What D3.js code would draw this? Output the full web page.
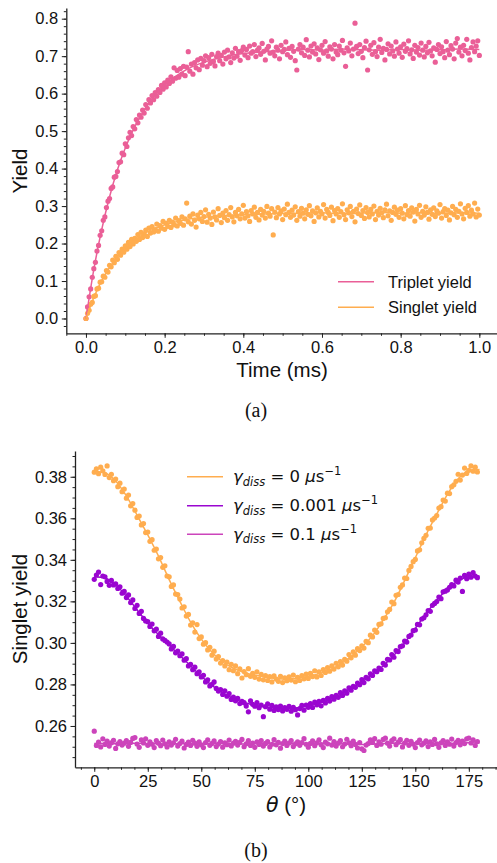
<!DOCTYPE html>
<html>
<head>
<meta charset="utf-8">
<script src="https://cdn.jsdelivr.net/npm/d3@7"></script>
<style>
body { margin: 0; background: #fff; }
svg text { font-family: "Liberation Sans", Arial, sans-serif; fill: #111; }
</style>
</head>
<body>
<svg id="chart" width="497" height="863"></svg>
<script>
// ---------- panel (a) data: yields vs time (ms), sampled every 0.004 ms ----------
const timeStep = 0.004;
const tripletYield = [
0.000,0.031,0.058,0.079,0.110,0.133,0.150,0.180,0.195,0.222,
0.234,0.262,0.271,0.296,0.313,0.320,0.347,0.351,0.377,0.379,
0.392,0.416,0.418,0.441,0.437,0.466,0.459,0.482,0.497,0.488,
0.512,0.506,0.531,0.522,0.543,0.537,0.556,0.548,0.571,0.561,
0.584,0.575,0.595,0.584,0.603,0.593,0.611,0.603,0.622,0.612,
0.629,0.618,0.636,0.627,0.645,0.633,0.669,0.641,0.662,0.644,
0.667,0.652,0.673,0.648,0.671,0.712,0.660,0.679,0.652,0.683,
0.669,0.690,0.664,0.694,0.676,0.688,0.701,0.672,0.696,0.681,
0.705,0.686,0.674,0.699,0.708,0.688,0.702,0.679,0.711,0.693,
0.716,0.698,0.683,0.709,0.695,0.721,0.700,0.712,0.689,0.715,
0.724,0.703,0.718,0.696,0.727,0.708,0.712,0.731,0.699,0.716,
0.722,0.705,0.734,0.713,0.690,0.719,0.726,0.708,0.741,0.711,
0.701,0.724,0.716,0.693,0.729,0.712,0.718,0.738,0.704,0.721,
0.697,0.726,0.713,0.688,0.663,0.719,0.731,0.709,0.724,0.702,
0.744,0.716,0.698,0.727,0.711,0.733,0.706,0.722,0.691,0.717,
0.729,0.708,0.739,0.714,0.700,0.725,0.719,0.693,0.731,0.711,
0.704,0.727,0.716,0.742,0.709,0.673,0.722,0.714,0.735,0.701,
0.719,0.788,0.726,0.707,0.731,0.713,0.696,0.723,0.740,0.663,
0.717,0.729,0.705,0.736,0.712,0.699,0.724,0.745,0.710,0.721,
0.690,0.718,0.733,0.706,0.727,0.714,0.700,0.738,0.719,0.708,
0.725,0.697,0.732,0.713,0.720,0.741,0.706,0.717,0.694,0.729,
0.711,0.723,0.703,0.735,0.716,0.698,0.726,0.709,0.737,0.714,
0.701,0.722,0.684,0.718,0.731,0.707,0.725,0.712,0.696,0.739,
0.716,0.704,0.728,0.719,0.693,0.735,0.747,0.711,0.724,0.701,
0.729,0.715,0.745,0.708,0.690,0.723,0.738,0.712,0.727,0.741,0.702
];
const singletYield = [
0.000,0.014,0.022,0.038,0.043,0.059,0.061,0.079,0.081,0.097,
0.098,0.113,0.110,0.128,0.124,0.142,0.138,0.156,0.149,0.166,
0.158,0.176,0.169,0.185,0.177,0.194,0.185,0.203,0.192,0.211,
0.199,0.214,0.206,0.224,0.211,0.230,0.216,0.226,0.236,0.219,
0.241,0.228,0.245,0.231,0.237,0.252,0.233,0.248,0.241,0.259,
0.238,0.254,0.246,0.262,0.243,0.257,0.250,0.268,0.247,0.261,
0.254,0.271,0.249,0.266,0.308,0.258,0.273,0.252,0.279,0.262,
0.244,0.276,0.266,0.283,0.259,0.272,0.290,0.257,0.278,0.268,
0.251,0.284,0.271,0.263,0.293,0.275,0.256,0.281,0.269,0.288,
0.262,0.277,0.296,0.271,0.258,0.283,0.274,0.291,0.266,0.279,
0.302,0.268,0.285,0.274,0.259,0.288,0.279,0.297,0.270,0.283,
0.263,0.291,0.276,0.286,0.268,0.299,0.281,0.273,0.293,0.223,
0.284,0.269,0.296,0.279,0.287,0.264,0.292,0.277,0.305,0.283,
0.270,0.289,0.276,0.298,0.262,0.285,0.273,0.294,0.281,0.266,
0.290,0.278,0.301,0.274,0.287,0.259,0.282,0.295,0.271,0.286,
0.279,0.304,0.268,0.291,0.283,0.275,0.297,0.261,0.288,0.279,
0.293,0.270,0.285,0.306,0.277,0.264,0.290,0.282,0.299,0.272,
0.286,0.258,0.292,0.280,0.303,0.275,0.288,0.267,0.296,0.283,
0.271,0.291,0.279,0.300,0.264,0.286,0.276,0.294,0.282,0.269,
0.290,0.305,0.274,0.287,0.262,0.283,0.297,0.278,0.289,0.270,
0.293,0.281,0.266,0.301,0.277,0.288,0.273,0.295,0.284,0.260,
0.291,0.279,0.302,0.270,0.286,0.276,0.298,0.283,0.265,0.290,
0.278,0.295,0.272,0.287,0.281,0.304,0.268,0.285,0.293,0.275,
0.289,0.263,0.282,0.299,0.277,0.291,0.270,0.286,0.306,0.279,
0.266,0.294,0.283,0.301,0.273,0.289,0.279,0.308,0.271,0.292,0.276
];
// fitted curves for panel (a)
const fitTime = [0,0.02,0.04,0.06,0.08,0.1,0.12,0.14,0.16,0.18,0.2,0.25,0.3,0.35,0.4,0.45,0.5,0.55,0.6,0.65,0.7,0.75,0.8,0.85,0.9,0.95,1.0];
const tripletFit = [0,0.131,0.237,0.325,0.397,0.455,0.503,0.542,0.575,0.601,0.623,0.661,0.684,0.698,0.707,0.712,0.715,0.718,0.716,0.719,0.717,0.716,0.718,0.716,0.717,0.719,0.718];
const singletFit = [0,0.056,0.101,0.136,0.165,0.188,0.206,0.221,0.233,0.242,0.250,0.263,0.270,0.274,0.277,0.279,0.280,0.281,0.282,0.280,0.281,0.283,0.281,0.282,0.280,0.282,0.281];

// ---------- panel (b) data: singlet yield vs theta (deg), one point per degree 0..179 ----------
const thetaStep = 1;
const yieldG0 = [
0.3822,0.3838,0.3815,0.3846,0.3829,0.3811,0.3852,0.3796,0.3812,0.3781,
0.3789,0.3752,0.3769,0.3728,0.3741,0.3697,0.3712,0.3660,0.3671,0.3639,
0.3604,0.3611,0.3568,0.3575,0.3531,0.3534,0.3489,0.3497,0.3446,0.3452,
0.3405,0.3411,0.3364,0.3371,0.3322,0.3318,0.3272,0.3279,0.3235,0.3233,
0.3211,0.3168,0.3174,0.3129,0.3137,0.3086,0.3097,0.3052,0.3088,0.3021,
0.3029,0.2994,0.3001,0.2966,0.2979,0.2941,0.2960,0.2922,0.2934,0.2903,
0.2915,0.2889,0.2908,0.2871,0.2897,0.2866,0.2889,0.2852,0.2875,0.2831,
0.2862,0.2847,0.2876,0.2839,0.2853,0.2834,0.2861,0.2826,0.2848,0.2822,
0.2843,0.2819,0.2838,0.2812,0.2841,0.2826,0.2815,0.2839,0.2809,0.2832,
0.2818,0.2836,0.2821,0.2845,0.2813,0.2834,0.2819,0.2842,0.2827,0.2850,
0.2829,0.2853,0.2838,0.2866,0.2836,0.2861,0.2843,0.2872,0.2858,0.2881,
0.2864,0.2889,0.2874,0.2902,0.2885,0.2910,0.2893,0.2921,0.2912,0.2944,
0.2928,0.2957,0.2941,0.2972,0.2963,0.2986,0.2975,0.3008,0.3001,0.3037,
0.3029,0.3062,0.3051,0.3089,0.3092,0.3118,0.3121,0.3150,0.3161,0.3197,
0.3189,0.3229,0.3233,0.3268,0.3279,0.3312,0.3310,0.3349,0.3368,0.3391,
0.3402,0.3443,0.3448,0.3482,0.3503,0.3518,0.3552,0.3553,0.3592,0.3601,
0.3613,0.3649,0.3656,0.3688,0.3683,0.3721,0.3719,0.3752,0.3761,0.3778,
0.3812,0.3784,0.3808,0.3842,0.3816,0.3831,0.3852,0.3827,0.3846,0.3823
];
const yieldG001 = [
0.3306,0.3327,0.3341,0.3281,0.3322,0.3318,0.3296,0.3277,0.3301,0.3279,
0.3284,0.3262,0.3270,0.3239,0.3248,0.3218,0.3231,0.3194,0.3207,0.3166,
0.3181,0.3142,0.3152,0.3118,0.3106,0.3102,0.3079,0.3091,0.3058,0.3066,
0.3031,0.3047,0.3019,0.3012,0.3004,0.2995,0.2971,0.2983,0.2952,0.2961,
0.2938,0.2947,0.2917,0.2924,0.2889,0.2897,0.2871,0.2883,0.2852,0.2861,
0.2836,0.2844,0.2812,0.2822,0.2793,0.2801,0.2812,0.2781,0.2768,0.2775,
0.2752,0.2769,0.2743,0.2756,0.2728,0.2739,0.2721,0.2733,0.2708,0.2719,
0.2712,0.2696,0.2668,0.2721,0.2704,0.2695,0.2712,0.2688,0.2701,0.2645,
0.2693,0.2706,0.2681,0.2699,0.2675,0.2692,0.2679,0.2696,0.2672,0.2688,
0.2680,0.2695,0.2671,0.2690,0.2678,0.2653,0.2684,0.2699,0.2676,0.2701,
0.2690,0.2708,0.2689,0.2715,0.2702,0.2718,0.2697,0.2723,0.2711,0.2733,
0.2720,0.2741,0.2729,0.2748,0.2738,0.2761,0.2747,0.2769,0.2758,0.2784,
0.2772,0.2791,0.2786,0.2807,0.2799,0.2823,0.2809,0.2834,0.2827,0.2851,
0.2843,0.2866,0.2861,0.2879,0.2872,0.2902,0.2893,0.2921,0.2918,0.2944,
0.2931,0.2963,0.2958,0.2982,0.2986,0.3009,0.3004,0.3031,0.3038,0.3059,
0.3062,0.3089,0.3087,0.3115,0.3121,0.3135,0.3156,0.3152,0.3181,0.3190,
0.3199,0.3221,0.3213,0.3246,0.3249,0.3255,0.3268,0.3281,0.3274,0.3302,
0.3293,0.3312,0.3248,0.3325,0.3309,0.3331,0.3316,0.3338,0.3322,0.3314
];
const yieldG01 = [
0.2575,0.2506,0.2522,0.2499,0.2538,0.2511,0.2527,0.2503,0.2519,0.2531,
0.2492,0.2514,0.2525,0.2508,0.2517,0.2529,0.2502,0.2521,0.2540,0.2544,
0.2513,0.2497,0.2533,0.2518,0.2538,0.2507,0.2524,0.2512,0.2496,0.2529,
0.2517,0.2505,0.2532,0.2514,0.2499,0.2523,0.2508,0.2519,0.2536,0.2503,
0.2515,0.2527,0.2494,0.2511,0.2522,0.2506,0.2531,0.2517,0.2502,0.2524,
0.2509,0.2496,0.2520,0.2533,0.2507,0.2516,0.2528,0.2501,0.2513,0.2525,
0.2498,0.2519,0.2510,0.2532,0.2504,0.2517,0.2526,0.2508,0.2521,0.2535,
0.2500,0.2514,0.2529,0.2506,0.2518,0.2497,0.2523,0.2511,0.2530,0.2503,
0.2516,0.2525,0.2499,0.2512,0.2534,0.2509,0.2521,0.2493,0.2515,0.2527,
0.2506,0.2518,0.2530,0.2501,0.2514,0.2524,0.2507,0.2520,0.2539,0.2512,
0.2498,0.2516,0.2528,0.2505,0.2519,0.2533,0.2510,0.2496,0.2522,0.2514,
0.2541,0.2508,0.2525,0.2503,0.2517,0.2529,0.2500,0.2513,0.2536,0.2519,
0.2505,0.2527,0.2511,0.2494,0.2520,0.2490,0.2482,0.2508,0.2515,0.2533,
0.2521,0.2539,0.2506,0.2524,0.2512,0.2535,0.2541,0.2517,0.2503,0.2529,
0.2538,0.2510,0.2522,0.2534,0.2499,0.2518,0.2531,0.2507,0.2526,0.2513,
0.2496,0.2520,0.2532,0.2509,0.2517,0.2528,0.2501,0.2523,0.2511,0.2535,
0.2514,0.2497,0.2519,0.2530,0.2506,0.2524,0.2512,0.2537,0.2503,0.2520,
0.2531,0.2509,0.2527,0.2515,0.2538,0.2542,0.2518,0.2533,0.2506,0.2525
];
// fitted curves for panel (b), every 5 degrees
const fitTheta = [0,5,10,15,20,25,30,35,40,45,50,55,60,65,70,75,80,85,90,95,100,105,110,115,120,125,130,135,140,145,150,155,160,165,170,175,180];
const fitG0 = [0.3825,0.3818,0.3780,0.3708,0.3615,0.3520,0.3418,0.3305,0.3200,0.3100,0.3018,0.2955,0.2908,0.2878,0.2858,0.2845,0.2835,0.2828,0.2825,0.2830,0.2840,0.2852,0.2870,0.2898,0.2935,0.2980,0.3035,0.3110,0.3195,0.3300,0.3410,0.3520,0.3620,0.3715,0.3790,0.3828,0.3835];
const fitG001 = [0.3318,0.3312,0.3280,0.3225,0.3160,0.3095,0.3040,0.2990,0.2940,0.2890,0.2840,0.2795,0.2760,0.2733,0.2713,0.2700,0.2691,0.2686,0.2684,0.2688,0.2697,0.2710,0.2728,0.2752,0.2780,0.2812,0.2848,0.2890,0.2940,0.3000,0.3070,0.3140,0.3205,0.3260,0.3298,0.3318,0.3322];
const fitG01 = [0.2516,0.2515,0.2514,0.2516,0.2517,0.2515,0.2514,0.2513,0.2515,0.2514,0.2513,0.2515,0.2516,0.2514,0.2513,0.2515,0.2514,0.2516,0.2515,0.2514,0.2513,0.2515,0.2516,0.2514,0.2513,0.2511,0.2513,0.2515,0.2517,0.2516,0.2514,0.2515,0.2517,0.2516,0.2518,0.2519,0.2518];

const tickA_x = [0, 0.2, 0.4, 0.6, 0.8, 1.0];
const tickA_y = [0, 0.1, 0.2, 0.3, 0.4, 0.5, 0.6, 0.7, 0.8];
const tickB_x = [0, 25, 50, 75, 100, 125, 150, 175];
const tickB_y = [0.26, 0.28, 0.30, 0.32, 0.34, 0.36, 0.38];

const colTriplet = '#ea5f97', colSinglet = '#ffad4f';
const colG0 = '#ffad4f', colG001 = '#9a06d0', colG01 = '#cc44bb';
const dotR = 2.6;

const svg = d3.select('#chart');

// helper: draw axes with major + minor ticks (left/bottom spines only)
function drawAxes(g, x, y, xt, yt, xMinorStep, yMinorStep, xFmt, yFmt) {
    const xd = x.domain(), yd = y.domain();
    const xMinor = d3.range(Math.ceil(xd[0] / xMinorStep), Math.floor(xd[1] / xMinorStep) + 1).map(k => k * xMinorStep);
    const yMinor = d3.range(Math.ceil(yd[0] / yMinorStep), Math.floor(yd[1] / yMinorStep) + 1).map(k => k * yMinorStep);
    const y0 = y.range()[0], x0 = x.range()[0];
    g.append('g').attr('transform', `translate(0,${y0})`)
        .call(d3.axisBottom(x).tickValues(xMinor).tickSize(2.5).tickFormat(''))
        .call(s => s.select('.domain').remove());
    g.append('g').attr('transform', `translate(${x0},0)`)
        .call(d3.axisLeft(y).tickValues(yMinor).tickSize(2.5).tickFormat(''))
        .call(s => s.select('.domain').remove());
    const xa = g.append('g').attr('transform', `translate(0,${y0})`)
        .call(d3.axisBottom(x).tickValues(xt).tickSize(4.5).tickSizeOuter(0).tickPadding(3.5).tickFormat(xFmt));
    const ya = g.append('g').attr('transform', `translate(${x0},0)`)
        .call(d3.axisLeft(y).tickValues(yt).tickSize(4.5).tickSizeOuter(0).tickPadding(3.5).tickFormat(yFmt));
    [xa, ya].forEach(a => {
        a.selectAll('text').style('font-size', '16.5px').attr('fill', '#111');
        a.select('.domain').attr('stroke', '#222').attr('stroke-width', 1.3);
    });
    g.selectAll('.tick line').attr('stroke', '#222').attr('stroke-width', 1);
}

// ================= panel (a) =================
const xA = d3.scaleLinear().domain([-0.05, 1.05]).range([66.3, 499]);
const yA = d3.scaleLinear().domain([-0.0395, 0.8285]).range([333.3, 8]);
const gA = svg.append('g');

const lineA = d3.line().x(d => xA(d[0])).y(d => yA(d[1])).curve(d3.curveMonotoneX);

gA.append('g').selectAll('circle').data(tripletYield).join('circle')
    .attr('cx', (d, i) => xA(i * timeStep)).attr('cy', d => yA(d))
    .attr('r', dotR).attr('fill', colTriplet);
gA.append('g').selectAll('circle').data(singletYield).join('circle')
    .attr('cx', (d, i) => xA(i * timeStep)).attr('cy', d => yA(d))
    .attr('r', dotR).attr('fill', colSinglet);
gA.append('path').datum(fitTime.map((t, i) => [t, tripletFit[i]]))
    .attr('d', lineA).attr('fill', 'none').attr('stroke', colTriplet).attr('stroke-width', 1.5);
gA.append('path').datum(fitTime.map((t, i) => [t, singletFit[i]]))
    .attr('d', lineA).attr('fill', 'none').attr('stroke', colSinglet).attr('stroke-width', 1.5);

drawAxes(gA, xA, yA, tickA_x, tickA_y, 0.05, 0.02, d3.format('.1f'), d3.format('.1f'));

gA.append('text').attr('x', 282).attr('y', 377).attr('text-anchor', 'middle')
    .style('font-size', '20.5px').text('Time (ms)');
gA.append('text').attr('transform', 'translate(27,171) rotate(-90)').attr('text-anchor', 'middle')
    .style('font-size', '20.5px').text('Yield');

const legA = [['Triplet yield', colTriplet, 281.7], ['Singlet yield', colSinglet, 307.3]];
legA.forEach(([label, c, ly]) => {
    gA.append('line').attr('x1', 338).attr('x2', 374).attr('y1', ly).attr('y2', ly)
        .attr('stroke', c).attr('stroke-width', 1.5);
    gA.append('text').attr('x', 388).attr('y', ly + 6).style('font-size', '16.5px').text(label);
});

svg.append('text').attr('x', 256).attr('y', 417).attr('text-anchor', 'middle')
    .style('font-family', '"Liberation Serif", "Times New Roman", serif').style('font-size', '20px').text('(a)');

// ================= panel (b) =================
const xB = d3.scaleLinear().domain([-9, 189]).range([75, 498.8]);
const yB = d3.scaleLinear().domain([0.2401, 0.3924]).range([767.3, 451]);
const gB = svg.append('g');
const lineB = d3.line().x(d => xB(d[0])).y(d => yB(d[1])).curve(d3.curveMonotoneX);

[[yieldG0, fitG0, colG0], [yieldG001, fitG001, colG001], [yieldG01, fitG01, colG01]].forEach(([pts, fit, c]) => {
    gB.append('g').selectAll('circle').data(pts).join('circle')
        .attr('cx', (d, i) => xB(i * thetaStep)).attr('cy', d => yB(d))
        .attr('r', dotR).attr('fill', c);
    gB.append('path').datum(fitTheta.map((t, i) => [t, fit[i]]))
        .attr('d', lineB).attr('fill', 'none').attr('stroke', c).attr('stroke-width', 1.5);
});

drawAxes(gB, xB, yB, tickB_x, tickB_y, 6.25, 0.005, d3.format('d'), d3.format('.2f'));

const xl = gB.append('text').attr('x', 286).attr('y', 812).attr('text-anchor', 'middle').style('font-size', '20.5px');
xl.append('tspan').style('font-style', 'italic').style('font-family', '"DejaVu Sans", sans-serif').text('θ');
xl.append('tspan').text(' (°)');
gB.append('text').attr('transform', 'translate(27,609) rotate(-90)').attr('text-anchor', 'middle')
    .style('font-size', '20.5px').text('Singlet yield');

const legB = [['0', colG0, 476.7], ['0.001', colG001, 505.7], ['0.1', colG01, 534.3]];
legB.forEach(([val, c, ly]) => {
    gB.append('line').attr('x1', 187).attr('x2', 223).attr('y1', ly).attr('y2', ly)
        .attr('stroke', c).attr('stroke-width', 1.5);
    const t = gB.append('text').attr('x', 233).attr('y', ly + 5.5)
        .style('font-family', '"DejaVu Sans", sans-serif').style('font-size', '16.5px');
    t.append('tspan').style('font-style', 'italic').text('γ');
    t.append('tspan').style('font-style', 'italic').style('font-size', '11.5px').attr('dy', 3.5).text('diss');
    t.append('tspan').attr('dy', -3.5).text(' = ' + val + ' ');
    t.append('tspan').style('font-style', 'italic').text('μ');
    t.append('tspan').text('s');
    t.append('tspan').style('font-size', '11.5px').attr('dy', -7).text('−1');
});

svg.append('text').attr('x', 256).attr('y', 857).attr('text-anchor', 'middle')
    .style('font-family', '"Liberation Serif", "Times New Roman", serif').style('font-size', '20px').text('(b)');
</script>
</body>
</html>
